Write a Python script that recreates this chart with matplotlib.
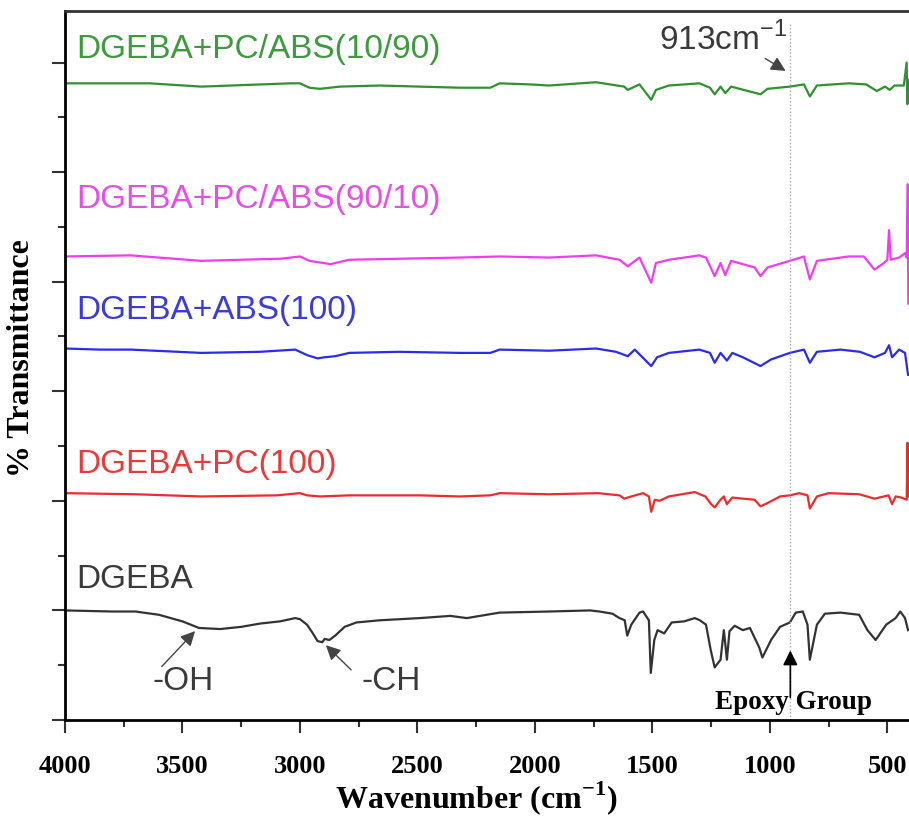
import numpy as np
import matplotlib.pyplot as plt
from matplotlib.ticker import MultipleLocator, NullFormatter

plt.rcParams["mathtext.fontset"] = "custom"
plt.rcParams["mathtext.rm"] = "Liberation Sans"
plt.rcParams["mathtext.bf"] = "Liberation Serif:bold"

# ------------------------------------------------------------
# spectra (wavenumber in cm-1, offset transmittance)
# ------------------------------------------------------------
wn_dgeba = [4000, 3800, 3700, 3600, 3500, 3430, 3340, 3250, 3170, 3085, 3020, 3000,
            2970, 2945, 2925, 2905, 2895, 2875, 2850, 2810, 2760, 2660, 2490, 2360,
            2290, 2150, 1940, 1765, 1725, 1670, 1640, 1618, 1607, 1590, 1555, 1540,
            1515, 1507, 1492, 1478, 1450, 1418, 1365, 1320, 1298, 1272, 1252, 1235,
            1210, 1196, 1183, 1172, 1150, 1115, 1085, 1045, 1032, 995, 957, 915,
            890, 860, 840, 830, 800, 766, 700, 620, 585, 550, 505, 465, 445, 425, 412]
t_dgeba = [1.00, 0.99, 0.99, 0.96, 0.90, 0.84, 0.83, 0.85, 0.88, 0.90, 0.93, 0.92,
           0.87, 0.79, 0.72, 0.71, 0.74, 0.73, 0.77, 0.85, 0.89, 0.91, 0.93, 0.95,
           0.93, 0.98, 0.99, 1.00, 0.99, 0.97, 0.93, 0.91, 0.77, 0.87, 0.98, 0.99,
           0.91, 0.43, 0.73, 0.82, 0.79, 0.89, 0.90, 0.93, 0.91, 0.87, 0.64, 0.48,
           0.55, 0.82, 0.55, 0.81, 0.86, 0.82, 0.84, 0.66, 0.57, 0.73, 0.85, 0.89,
           0.98, 0.99, 0.87, 0.55, 0.87, 0.97, 0.98, 0.96, 0.82, 0.73, 0.87, 0.93,
           0.99, 0.93, 0.82]

wn_pc = [4000, 3700, 3420, 3100, 3000, 2970, 2915, 2790, 2490, 2320, 2190, 2150,
         1940, 1730, 1640, 1620, 1590, 1540, 1515, 1505, 1490, 1470, 1430, 1320,
         1275, 1250, 1235, 1210, 1196, 1183, 1160, 1115, 1065, 1040, 1010, 957,
         915, 875, 840, 830, 800, 750, 620, 555, 495, 480, 465, 440, 418, 414, 410]
t_pc = [2.07, 2.06, 2.04, 2.05, 2.07, 2.05, 2.04, 2.05, 2.05, 2.04, 2.05, 2.07,
        2.06, 2.07, 2.05, 2.02, 2.04, 2.07, 2.04, 1.90, 2.01, 2.00, 2.04, 2.08,
        2.04, 1.97, 1.94, 2.01, 2.04, 1.97, 2.03, 2.02, 2.01, 1.95, 1.98, 2.04,
        2.05, 2.07, 2.05, 1.93, 2.04, 2.07, 2.06, 2.02, 2.05, 1.97, 2.04, 2.03,
        2.01, 2.53, 2.04]

wn_abs = [4000, 3850, 3720, 3420, 3170, 3020, 2970, 2925, 2895, 2850, 2790, 2580,
          2320, 2190, 2150, 1940, 1740, 1655, 1605, 1575, 1505, 1480, 1430, 1300,
          1255, 1235, 1210, 1183, 1160, 1115, 1040, 995, 915, 855, 830, 800, 700,
          617, 555, 510, 493, 480, 450, 425, 412]
t_abs = [3.39, 3.38, 3.38, 3.35, 3.36, 3.38, 3.33, 3.30, 3.31, 3.32, 3.35, 3.36,
         3.35, 3.35, 3.38, 3.37, 3.39, 3.36, 3.32, 3.38, 3.23, 3.31, 3.35, 3.38,
         3.35, 3.26, 3.35, 3.28, 3.35, 3.31, 3.23, 3.29, 3.35, 3.38, 3.26, 3.36, 3.38,
         3.36, 3.31, 3.35, 3.42, 3.31, 3.38, 3.35, 3.15]

wn_9010 = [4000, 3720, 3420, 3080, 3000, 2960, 2870, 2790, 2320, 2150, 1940, 1740,
           1640, 1605, 1555, 1505, 1485, 1430, 1300, 1272, 1235, 1210, 1190, 1165,
           1115, 1065, 1040, 1010, 915, 855, 830, 800, 665, 600, 555, 515, 500, 493,
           486, 450, 425, 418, 413, 411]
t_9010 = [4.23, 4.24, 4.19, 4.21, 4.23, 4.19, 4.16, 4.20, 4.22, 4.23, 4.22, 4.24,
          4.20, 4.14, 4.22, 3.99, 4.17, 4.20, 4.24, 4.22, 4.05, 4.17, 4.06, 4.19,
          4.16, 4.13, 4.05, 4.13, 4.19, 4.23, 4.02, 4.19, 4.23, 4.23, 4.11, 4.17, 4.20, 4.47,
          4.20, 4.22, 4.26, 4.22, 4.89, 3.80]

wn_1090 = [4000, 3640, 3420, 3040, 3000, 2960, 2915, 2830, 2660, 2320, 2190, 2150,
           2020, 1940, 1740, 1620, 1605, 1555, 1505, 1485, 1430, 1300, 1255, 1235,
           1210, 1190, 1165, 1040, 1010, 915, 855, 830, 800, 665, 590, 545, 510, 490,
           470, 430, 418, 415, 412]
t_1090 = [5.81, 5.81, 5.78, 5.81, 5.81, 5.77, 5.76, 5.78, 5.79, 5.77, 5.77, 5.81,
          5.80, 5.79, 5.82, 5.78, 5.75, 5.80, 5.66, 5.75, 5.79, 5.81, 5.77, 5.71,
          5.78, 5.72, 5.78, 5.71, 5.76, 5.78, 5.80, 5.69, 5.79, 5.81, 5.80, 5.74, 5.78, 5.75,
          5.79, 5.79, 6.00, 5.62, 5.84]

series = [
    ("DGEBA", wn_dgeba, t_dgeba, "#333333", "#3a3a3a", 1.28),
    ("DGEBA+PC(100)", wn_pc, t_pc, "#ee2b2b", "#e83a3a", 2.33),
    ("DGEBA+ABS(100)", wn_abs, t_abs, "#2b2bee", "#3b3bd8", 3.74),
    ("DGEBA+PC/ABS(90/10)", wn_9010, t_9010, "#f03cf0", "#e64ee6", 4.75),
    ("DGEBA+PC/ABS(10/90)", wn_1090, t_1090, "#2f922f", "#3d9a3d", 6.12),
]

# ------------------------------------------------------------
# figure
# ------------------------------------------------------------
fig = plt.figure(figsize=(9.09, 8.19), dpi=100)
ax = fig.add_axes([65 / 909, 99 / 819, 844 / 909, 709 / 819])

for name, wn, t, lc, tc, ty in series:
    ax.plot(wn, t, color=lc, lw=1.6)
    ax.text(3953, ty, name, color=tc, fontsize=24, family="Liberation Sans",
            ha="left", va="center")

ax.set_xlim(4000, 408)
ax.set_ylim(0, 6.47)

# epoxy reference line
ax.plot([913, 913], [0, 6.35], color="#aaaaaa", lw=1, ls=(0, (1, 1.5)))

arrow = dict(arrowstyle="-|>", color="#444444", lw=1.0, mutation_scale=22)
ax.annotate("", xy=(923, 5.91), xytext=(1030, 6.05), arrowprops=arrow)
ax.text(1472, 6.21, r"913cm$^{\mathrm{-1}}$", fontsize=24, color="#3a3a3a",
        family="Liberation Sans", ha="left", va="center")

ax.annotate("", xy=(3438, 0.83), xytext=(3596, 0.47), arrowprops=arrow)
ax.text(3626, 0.35, "-OH", fontsize=24, color="#3a3a3a", family="Liberation Sans",
        ha="left", va="center")
ax.annotate("", xy=(2898, 0.70), xytext=(2774, 0.44), arrowprops=arrow)
ax.text(2736, 0.35, "-CH", fontsize=24, color="#3a3a3a", family="Liberation Sans",
        ha="left", va="center")

ax.annotate("", xy=(913, 0.66), xytext=(913, 0.18),
            arrowprops=dict(arrowstyle="-|>", color="black", lw=1.2, mutation_scale=22))
ax.text(1234, 0.16, "Epoxy Group", fontsize=19.5, fontweight="bold",
        family="Liberation Serif", ha="left", va="center")

# axes styling
ax.spines["right"].set_visible(False)
ax.spines["top"].set_color("#333333")
for s in ["left", "bottom", "top"]:
    ax.spines[s].set_linewidth(2)

ax.xaxis.set_major_locator(MultipleLocator(500))
ax.xaxis.set_minor_locator(MultipleLocator(250))
ax.yaxis.set_major_locator(MultipleLocator(1))
ax.yaxis.set_minor_locator(MultipleLocator(0.5))
ax.yaxis.set_major_formatter(NullFormatter())
ax.tick_params(which="major", direction="out", length=9.5, width=1.5, color="#333333")
ax.tick_params(which="minor", direction="out", length=5, width=1.5, color="#333333")
ax.tick_params(axis="x", which="major", pad=16)
for lab in ax.get_xticklabels():
    lab.set_fontfamily("Liberation Serif")
    lab.set_fontweight("bold")
    lab.set_fontsize(19)

fig.text(476 / 909, 1 - 808 / 819, r"Wavenumber (cm$^{\mathbf{-1}}$)", fontsize=23,
         fontweight="bold", family="Liberation Serif", ha="center", va="baseline")
fig.text(22 / 909, 1 - 358 / 819, "% Transmittance", fontsize=23, fontweight="bold",
         family="Liberation Serif", rotation=90, ha="center", va="center")

fig.savefig("out.png", dpi=100)
